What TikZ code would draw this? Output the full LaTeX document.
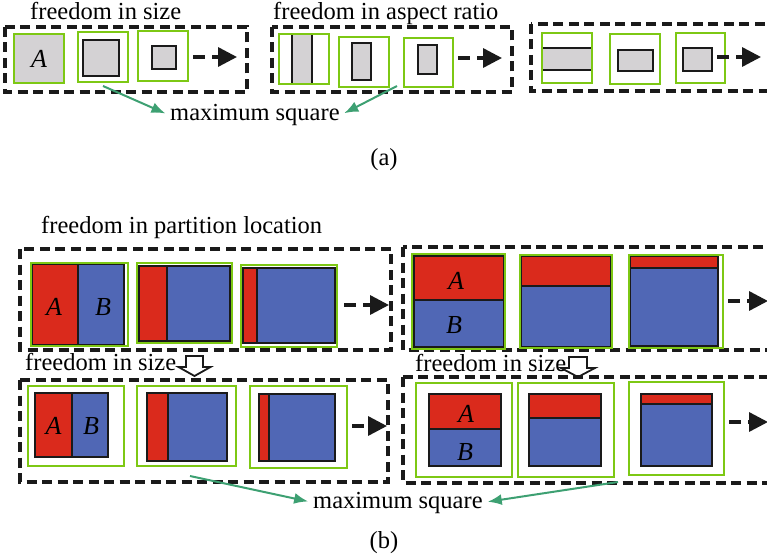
\documentclass[tikz,border=0pt]{standalone}
\usepackage{fontspec}
\setmainfont{Liberation Serif}
\usetikzlibrary{fit,arrows.meta}
\definecolor{framegreen}{HTML}{7DC814}
\definecolor{pointgreen}{HTML}{3DA072}
\definecolor{cellgray}{HTML}{D4D2D4}
\definecolor{cellred}{HTML}{DA2A1C}
\definecolor{cellblue}{HTML}{5067B5}
\definecolor{ink}{HTML}{1A1A1A}

\begin{document}
\begin{tikzpicture}[
    x=1pt, y=-1pt,
    region/.style={draw=ink, line width=3.2pt, dash pattern=on 10pt off 5.5pt},
    window/.style={draw=framegreen, line width=2.6pt, inner sep=0pt},
    tile/.style={draw=ink, line width=2.8pt, fill=cellgray},
    split/.style={draw=ink, line width=2.4pt},
    cont/.style={draw=ink, line width=3.4pt, dash pattern=on 12pt off 7pt, shorten <=4pt, -{Triangle[length=19pt, width=19pt]}},
    pointer/.style={draw=pointgreen, line width=2pt, shorten >=5pt, -{Latex[length=14pt, width=11pt]}},
    hollow/.style={draw=ink, line width=1.8pt, fill=white, line join=miter},
    caption/.style={inner sep=0pt, font=\fontsize{24.5}{28}\selectfont},
    letter/.style={inner sep=0pt, font=\fontsize{26}{30}\selectfont\itshape}
]
\useasboundingbox (0,0) rectangle (767,559);

% (a) Freedom in size
\node[caption, anchor=base west] (ta1) at (30,20) {freedom in size};
\draw[region] (5,27) rectangle (247,92);
\node[window, fill=cellgray, fit={(14,34) (64,83)}] (a1) {};
\node[letter] (la1) at (a1) {A};
\draw[tile] (83,40) rectangle (119,76);
\node[window, fit={(78,32) (128,82)}] (a2) {};
\draw[tile] (152,46) rectangle (176,69);
\node[window, fit={(138,31) (188,81)}] (a3) {};
\coordinate (ea1) at (237,57);
\draw[cont] (a3.east |- ea1) -- (ea1);

% (a) Freedom in aspect ratio
\node[caption, anchor=base west] (ta2) at (273,20) {freedom in aspect ratio};
\draw[region] (272,27) rectangle (512,92);
\draw[tile] (292,34) rectangle (312,84);
\node[window, fit={(279,34) (329,84)}] (b1) {};
\draw[tile] (352,43) rectangle (371,80);
\node[window, fit={(339,37) (389,87)}] (b2) {};
\draw[tile] (418,45) rectangle (437,74);
\node[window, fit={(404,38) (453,87)}] (b3) {};
\coordinate (ea2) at (502,58);
\draw[cont] (b3.east |- ea2) -- (ea2);

% (a) Wide rectangles
\draw[region] (531,24) rectangle (790,91);
\draw[tile] (542,48) rectangle (592,70);
\node[window, fit={(542,33) (592,83)}] (c1) {};
\draw[tile] (618,50) rectangle (653,71);
\node[window, fit={(610,34) (660,84)}] (c2) {};
\draw[tile] (683,48) rectangle (712,71);
\node[window, fit={(676,33) (725,83)}] (c3) {};
\coordinate (ea3) at (761,57);
\draw[cont, shorten <=-9pt] (c3.east |- ea3) -- (ea3);

% (a) Maximum square
\node[caption, anchor=base west] (ma) at (170,121) {maximum square};
\coordinate (pa1) at (103,86);
\coordinate (pa2) at (397,86);
\draw[pointer] (pa1) -- (ma.west);
\draw[pointer] (pa2) -- (ma.east);
\node[caption, anchor=base] (lba) at (384,165) {(a)};

% (b) Freedom in partition location, vertical split
\node[caption, anchor=base west] (tb1) at (41,233) {freedom in partition location};
\draw[region] (20,249) rectangle (391,350);
\draw[split, fill=cellblue] (32,264) rectangle (124,345);
\draw[split, fill=cellred] (32,264) rectangle (78,345);
\node[window, fit={(31,263) (128,346)}] (p1) {};
\node[letter] (lp1a) at (54,307) {A};
\node[letter] (lp1b) at (103,307) {B};
\draw[split, fill=cellblue] (139,266) rectangle (230,341);
\draw[split, fill=cellred] (139,266) rectangle (167,341);
\node[window, fit={(137,263) (232,343)}] (p2) {};
\draw[split, fill=cellblue] (243,268) rectangle (335,343);
\draw[split, fill=cellred] (243,268) rectangle (257,343);
\node[window, fit={(241,265) (337,347)}] (p3) {};
\coordinate (eb1) at (389,305);
\draw[cont, shorten <=6pt] (p3.east |- eb1) -- (eb1);

% (b) Horizontal split
\draw[region] (403,247) rectangle (790,350);
\draw[split, fill=cellblue] (414,256) rectangle (504,347);
\draw[split, fill=cellred] (414,256) rectangle (504,300);
\node[window, fit={(412,254) (505,349)}] (q1) {};
\node[letter] (lq1a) at (456,281) {A};
\node[letter] (lq1b) at (454,325) {B};
\draw[split, fill=cellblue] (521,256) rectangle (611,347);
\draw[split, fill=cellred] (521,256) rectangle (611,286);
\node[window, fit={(520,255) (612,348)}] (q2) {};
\draw[split, fill=cellblue] (630,256) rectangle (718,346);
\draw[split, fill=cellred] (630,256) rectangle (718,268);
\node[window, fit={(629,255) (723,348)}] (q3) {};
\coordinate (eb2) at (768,301);
\draw[cont] (q3.east |- eb2) -- (eb2);

% (b) Freedom in size, vertical split
\node[caption, anchor=base west] (tb2) at (25,370) {freedom in size};
\draw[hollow, shift={(194.5,356)}] (-8.5,0) -- (8.5,0) -- (8.5,11) -- (16,11) -- (0,20) -- (-16,11) -- (-8.5,11) -- cycle;
\draw[region] (20,380) rectangle (388,482);
\draw[split, fill=cellblue] (35,393) rectangle (108,457);
\draw[split, fill=cellred] (35,393) rectangle (72,457);
\node[window, fit={(28,386) (124,466)}] (r1) {};
\node[letter] (lr1a) at (53.5,426) {A};
\node[letter] (lr1b) at (91,426) {B};
\draw[split, fill=cellblue] (147,393) rectangle (227,461);
\draw[split, fill=cellred] (147,393) rectangle (168,461);
\node[window, fit={(137,386) (236,466)}] (r2) {};
\draw[split, fill=cellblue] (259,394) rectangle (335,461);
\draw[split, fill=cellred] (259,394) rectangle (269,461);
\node[window, fit={(250,386) (347,468)}] (r3) {};
\coordinate (eb3) at (387,426);
\draw[cont] (r3.east |- eb3) -- (eb3);

% (b) Freedom in size, horizontal split
\node[caption, anchor=base west] (tb3) at (415,371) {freedom in size};
\draw[hollow, shift={(578,357)}] (-9,0) -- (9,0) -- (9,11) -- (17,11) -- (0,20) -- (-17,11) -- (-9,11) -- cycle;
\draw[region] (403,377) rectangle (790,483);
\draw[split, fill=cellblue] (429,394) rectangle (501,466);
\draw[split, fill=cellred] (429,394) rectangle (501,429);
\node[window, fit={(416,383) (512,477)}] (s1) {};
\node[letter] (ls1a) at (466,414) {A};
\node[letter] (ls1b) at (465,452) {B};
\draw[split, fill=cellblue] (529,394) rectangle (601,466);
\draw[split, fill=cellred] (529,394) rectangle (601,418);
\node[window, fit={(518,383) (614,477)}] (s2) {};
\draw[split, fill=cellblue] (641,394) rectangle (712,466);
\draw[split, fill=cellred] (641,394) rectangle (712,404);
\node[window, fit={(629,382) (724,475)}] (s3) {};
\coordinate (eb4) at (768,422);
\draw[cont] (s3.east |- eb4) -- (eb4);

% (b) Maximum square
\node[caption, anchor=base west] (mb) at (313,508) {maximum square};
\coordinate (pb1) at (190,476);
\coordinate (pb2) at (618,482);
\draw[pointer] (pb1) -- (mb.west);
\draw[pointer] (pb2) -- (mb.east);
\node[caption, anchor=base] (lbb) at (384,548) {(b)};

\end{tikzpicture}
\end{document}
